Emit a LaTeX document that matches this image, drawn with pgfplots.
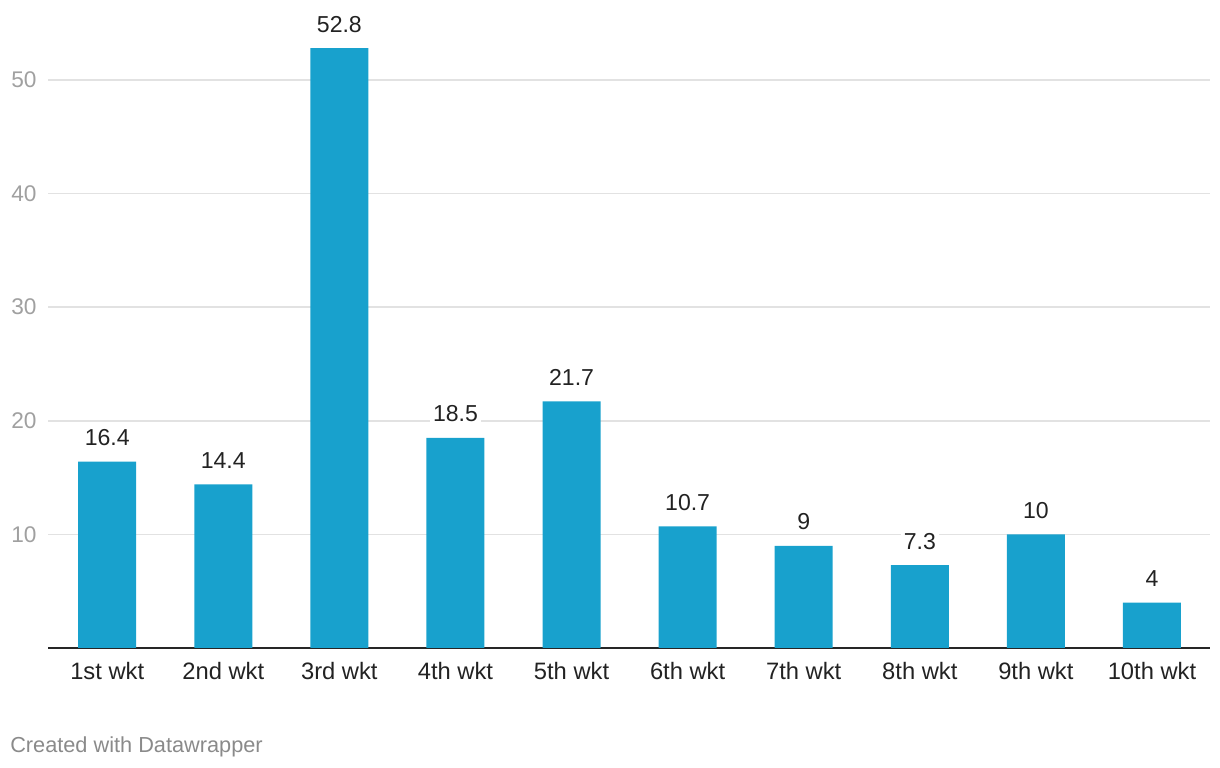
\documentclass[border=0pt]{standalone}
\usepackage{pgfplots}
\pgfplotsset{compat=1.18}
\usepackage{fontspec}
\setmainfont{Liberation Sans}
\usetikzlibrary{calc}
\definecolor{barblue}{HTML}{18A1CD}
\definecolor{gridgray}{HTML}{E2E2E2}
\definecolor{ticklab}{HTML}{A0A0A0}
\definecolor{darktext}{HTML}{222222}
\definecolor{footgray}{HTML}{8A8A8A}
\begin{document}
\begin{tikzpicture}
\begin{axis}[
  name=ax,
  scale only axis,
  width=871.5pt, height=426pt,
  xmin=-0.51, xmax=9.5,
  ymin=0, ymax=50,
  clip=false,
  axis x line*=bottom,
  axis y line*=left,
  y axis line style={draw=none},
  x axis line style={line width=1.5pt, color=black!85},
  major tick style={draw=none},
  ymajorgrids,
  grid style={color=gridgray, line width=1.3pt},
  ytick={10,20,30,40,50},
  yticklabel style={anchor=west, inner sep=0pt, xshift=-27.75pt, text=ticklab, font=\fontsize{17}{19}\selectfont},
  /pgf/number format/assume math mode=true,
  xtick=data,
  xticklabels={1st wkt,2nd wkt,3rd wkt,4th wkt,5th wkt,6th wkt,7th wkt,8th wkt,9th wkt,10th wkt},
  xticklabel style={anchor=base, inner sep=0pt, yshift=-24pt, text=darktext, font=\fontsize{17.8}{20}\selectfont},
  nodes near coords,
  every node near coord/.append style={anchor=base, inner sep=2pt, yshift=12pt, fill=white, text=darktext, font=\fontsize{17.3}{20}\selectfont},
]
\addplot[ybar, bar width=0.5, fill=barblue, draw=none] coordinates {
  (0,16.4) (1,14.4) (2,52.8) (3,18.5) (4,21.7) (5,10.7) (6,9) (7,7.3) (8,10) (9,4)
};
\end{axis}
\node[anchor=base west, inner sep=0pt, text=footgray, font=\fontsize{16.3}{19}\selectfont] at ($(ax.south west)+(-28.5pt,-78pt)$) {Created with Datawrapper};
\path ($(ax.south west)+(-36pt,-90pt)$) rectangle ($(ax.north east)+(7.5pt,60pt)$);
\end{tikzpicture}
\end{document}
